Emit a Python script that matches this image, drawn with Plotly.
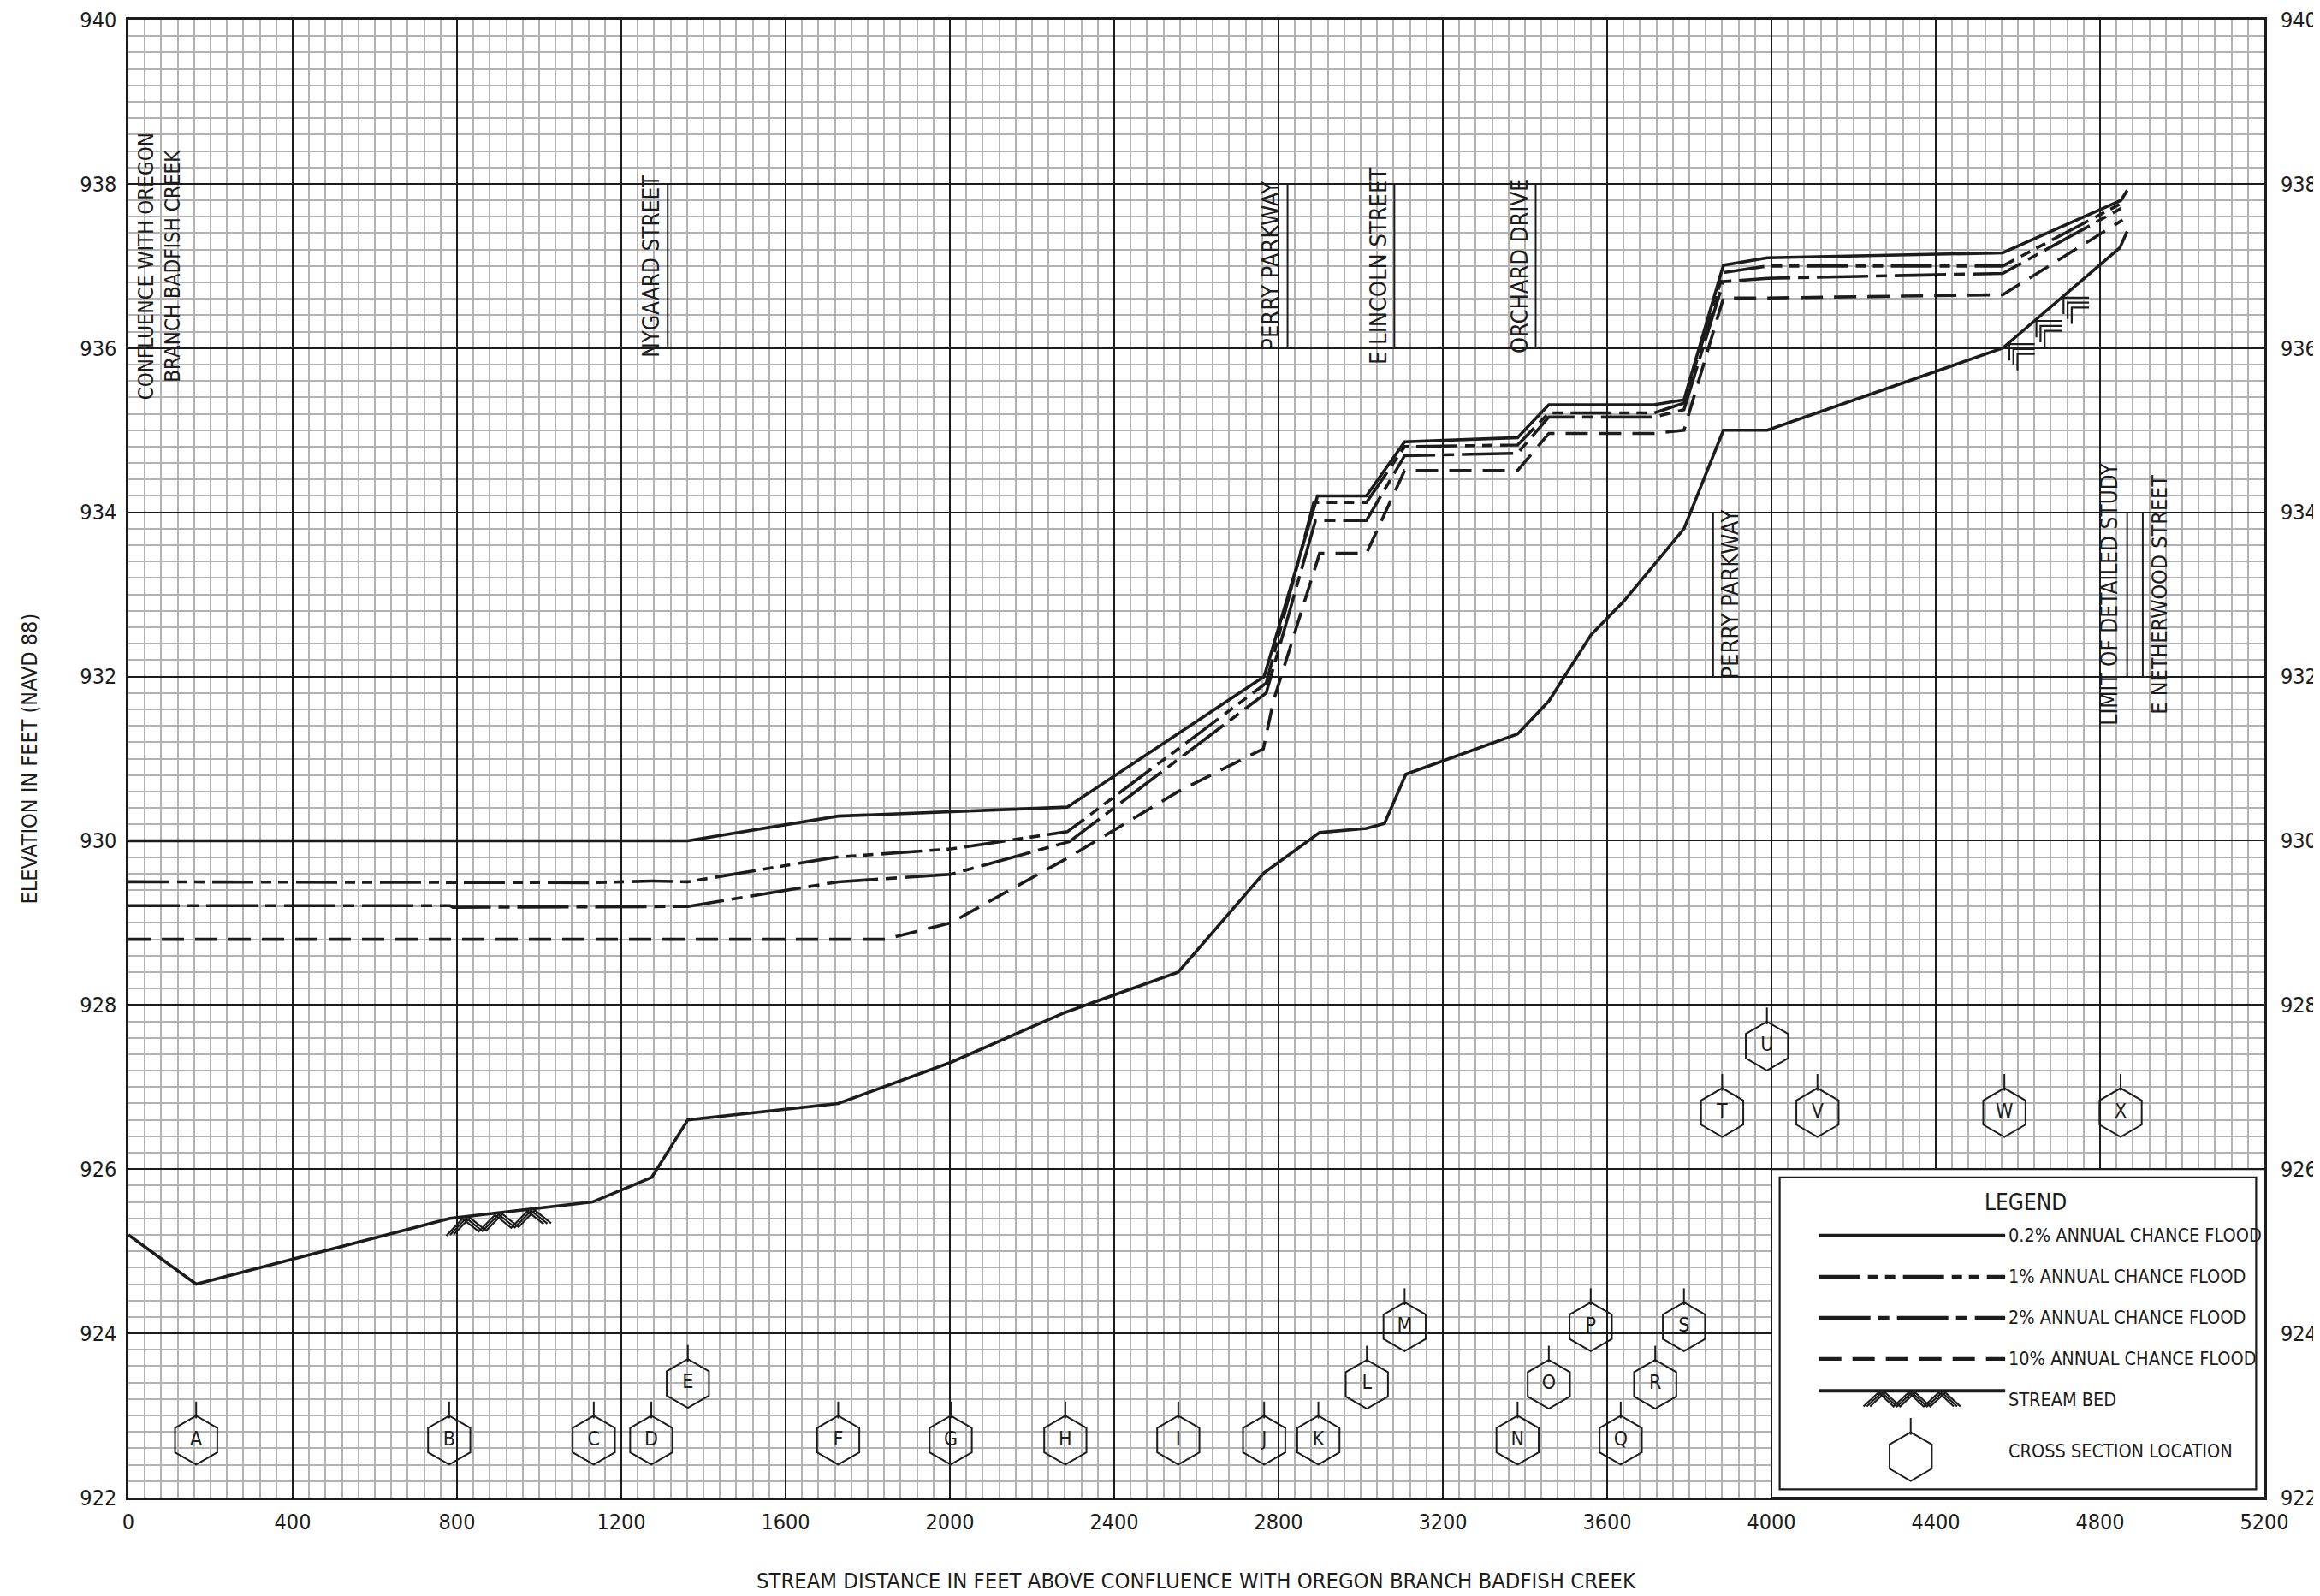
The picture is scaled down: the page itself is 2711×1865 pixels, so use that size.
import numpy as np
import plotly.graph_objects as go

FONT = "Liberation Sans Narrow, Arial Narrow, DejaVu Sans Condensed, sans-serif"
INK = "#1c1c1c"

# ---------------- data ----------------
bed_x = [0, 165, 783, 1130, 1274, 1362, 1728, 2002, 2281, 2556, 2765, 2900, 3014, 3058,
         3110, 3382, 3458, 3561, 3641, 3714, 3787, 3883, 3990, 4563, 4848, 4866]
bed_y = [925.20, 924.60, 925.40, 925.60, 925.90, 926.60, 926.80, 927.30, 927.91, 928.40,
         929.61, 930.10, 930.15, 930.21, 930.81, 931.30, 931.70, 932.51, 932.92, 933.36,
         933.80, 935.00, 935.00, 936.00, 937.22, 937.42]

f02_x = [0, 1362, 1728, 2286, 2765, 2895, 3014, 3107, 3382, 3458, 3714, 3787, 3883, 3990,
         4563, 4851, 4866]
f02_y = [930.00, 930.00, 930.30, 930.41, 932.00, 934.20, 934.20, 934.86, 934.91, 935.31,
         935.31, 935.37, 937.01, 937.10, 937.16, 937.80, 937.92]

f1_x = [0, 1130, 1274, 1362, 1723, 2002, 2286, 2770, 2886, 3014, 3107, 3382, 3458, 3714,
        3787, 3883, 3990, 4563, 4851]
f1_y = [929.50, 929.49, 929.51, 929.50, 929.80, 929.90, 930.11, 931.92, 934.12, 934.12,
        934.80, 934.82, 935.21, 935.21, 935.33, 936.92, 937.00, 937.00, 937.76]

f2_x = [0, 783, 790, 1362, 1728, 2002, 2291, 2770, 2890, 3014, 3107, 3382, 3458, 3714,
        3787, 3883, 3990, 4563, 4851]
f2_y = [929.21, 929.21, 929.19, 929.20, 929.50, 929.59, 929.99, 931.80, 933.90, 933.90,
        934.69, 934.72, 935.16, 935.16, 935.25, 936.81, 936.85, 936.91, 937.70]

f10_x = [0, 1843, 2002, 2290, 2556, 2763, 2788, 2900, 3014, 3107, 3382, 3458, 3714, 3787,
         3883, 3990, 4563, 4855]
f10_y = [928.80, 928.80, 929.00, 929.80, 930.60, 931.12, 931.71, 933.50, 933.50, 934.51,
         934.51, 934.96, 934.96, 935.00, 936.61, 936.61, 936.65, 937.56]

xs_labels = list("ABCDEFGHIJKLMNOPQRSTUVWX")
xs_x = [165, 781, 1133, 1273, 1362, 1728, 2002, 2281, 2556, 2765, 2897, 3015, 3107, 3382,
        3458, 3560, 3633, 3717, 3787, 3880, 3989, 4112, 4567, 4850]
xs_y = [922.70, 922.70, 922.70, 922.70, 923.39, 922.70, 922.70, 922.70, 922.70, 922.70,
        922.70, 923.38, 924.08, 922.70, 923.38, 924.08, 922.70, 923.38, 924.08, 926.69,
        927.50, 926.69, 926.69, 926.69]

street_text = ["CONFLUENCE WITH OREGON<br>BRANCH BADFISH CREEK", "NYGAARD STREET",
               "PERRY PARKWAY", "E LINCOLN STREET", "ORCHARD DRIVE", "PERRY PARKWAY",
               "LIMIT OF DETAILED STUDY", "E NETHERWOOD STREET"]
street_x = [76, 1273, 2781, 3044, 3388, 3900, 4823, 4946]
street_y = [937.0, 937.0, 937.0, 937.0, 937.0, 933.0, 933.0, 933.0]
street_size = [24, 26, 27, 27, 27, 27, 26, 25]

bar_x = [1313, 2822, 3082, 3426, 3858, 4866, 4904]
bar_y0 = [936, 936, 936, 936, 932, 932, 932]
bar_y1 = [938, 938, 938, 938, 934, 934, 934]

legend_labels = ["0.2% ANNUAL CHANCE FLOOD", "1% ANNUAL CHANCE FLOOD",
                 "2% ANNUAL CHANCE FLOOD", "10% ANNUAL CHANCE FLOOD",
                 "STREAM BED", "CROSS SECTION LOCATION"]

x_ticks = list(range(0, 5201, 400))
y_ticks = list(range(922, 941, 2))

# ---------------- styles ----------------
DASH_1 = "48px,9px,12px,8px,12px,9px"
DASH_2 = "60px,9px,13px,9px"
DASH_10 = "26px,13px"
LW = 3.6
TICK_FONT = 25

fig = go.Figure()


def add_line(x, y, dash, width=LW):
    fig.add_trace(go.Scatter(x=x, y=y, mode="lines", showlegend=False, hoverinfo="skip",
                             line=dict(color=INK, width=width, dash=dash)))


add_line(f10_x, f10_y, DASH_10)
add_line(f2_x, f2_y, DASH_2)
add_line(f1_x, f1_y, DASH_1)
add_line(f02_x, f02_y, "solid")
add_line(bed_x, bed_y, "solid")


# stream bed hatch (decoration derived from the stream bed profile)
def chevrons(xa, xb, nseg, base, depth, top_gap):
    xk = np.linspace(xa, xb, nseg + 1)
    ox, oy = [], []
    for k, xv in enumerate(xk):
        b = base(xv)
        ox.append(xv)
        oy.append(b - depth if k % 2 == 0 else b - top_gap)
    return ox, oy


def bed_fn(v):
    return float(np.interp(v, bed_x, bed_y))


def add_hatch(xa, xb, nseg, base, depth, top_gap, shifts):
    for s in shifts:
        hx, hy = chevrons(xa + s, xb + s, nseg, base, depth, top_gap)
        fig.add_trace(go.Scatter(x=hx, y=hy, mode="lines", showlegend=False,
                                 hoverinfo="skip", line=dict(color=INK, width=2.2)))


def add_stairs(xa, nsteps, step, run, rise, shifts):
    # sheared hatch on a sloping bed: vertical stroke then horizontal stroke
    for dx, dy in shifts:
        hx, hy = [], []
        for i in range(nsteps):
            xv = xa + i * step
            b = bed_fn(xv)
            hx += [xv + dx, xv + dx, xv + run, None]
            hy += [b - rise + dy, b - 0.02 + dy, b - 0.02 + dy, None]
        fig.add_trace(go.Scatter(x=hx, y=hy, mode="lines", showlegend=False,
                                 hoverinfo="skip", connectgaps=False,
                                 line=dict(color=INK, width=2.2)))


add_hatch(783, 1020, 6, bed_fn, 0.20, 0.02, [-9, 0, 9])
add_stairs(4579, 3, 66, 62, 0.22, [(0, 0.0), (10, -0.06), (20, -0.12)])

# cross-section hexagons
TICK_OFF = 0.367
fig.add_trace(go.Scatter(
    x=xs_x, y=xs_y, mode="markers+text", text=xs_labels, textposition="middle center",
    textfont=dict(family=FONT, size=23, color=INK), showlegend=False, hoverinfo="skip",
    marker=dict(symbol="hexagon-open", size=57, color=INK, line=dict(width=2, color=INK))))
fig.add_trace(go.Scatter(
    x=xs_x, y=[v + TICK_OFF for v in xs_y], mode="markers", showlegend=False,
    hoverinfo="skip",
    marker=dict(symbol="line-ns", size=14, color=INK, line=dict(width=2, color=INK))))

# invisible trace to carry the right-hand axis
fig.add_trace(go.Scatter(x=bed_x, y=bed_y, yaxis="y2", mode="lines", opacity=0,
                         showlegend=False, hoverinfo="skip", line=dict(width=0)))

shapes = []
# legend box
shapes.append(dict(type="rect", xref="x", yref="y", x0=4000, x1=5200, y0=922, y1=926,
                   fillcolor="white", line=dict(color=INK, width=2), layer="between"))
shapes.append(dict(type="rect", xref="x", yref="y", x0=4020, x1=5180, y0=922.1, y1=925.9,
                   fillcolor="rgba(0,0,0,0)", line=dict(color=INK, width=2.2), layer="above"))
leg_y = [925.19, 924.69, 924.19, 923.69, 923.30]
leg_dash = ["solid", DASH_1, DASH_2, DASH_10, "solid"]
for yy, dd in zip(leg_y, leg_dash):
    shapes.append(dict(type="line", xref="x", yref="y", x0=4116, x1=4569, y0=yy, y1=yy,
                       line=dict(color=INK, width=4.2, dash=dd), layer="above"))

# structure bars
for bx, b0, b1 in zip(bar_x, bar_y0, bar_y1):
    shapes.append(dict(type="line", xref="x", yref="y", x0=bx, x1=bx, y0=b0, y1=b1,
                       line=dict(color=INK, width=2), layer="above"))

# legend hatch and hexagon sample
add_hatch(4232, 4452, 6, lambda v: 923.30, 0.19, 0.02, [-8, 0, 8])
fig.add_trace(go.Scatter(
    x=[4339], y=[922.50], mode="markers", showlegend=False, hoverinfo="skip",
    marker=dict(symbol="hexagon-open", size=57, color=INK, line=dict(width=2, color=INK))))
fig.add_trace(go.Scatter(
    x=[4339], y=[922.50 + TICK_OFF], mode="markers", showlegend=False, hoverinfo="skip",
    marker=dict(symbol="line-ns", size=14, color=INK, line=dict(width=2, color=INK))))

annotations = []
for t, ax_, ay_, fs in zip(street_text, street_x, street_y, street_size):
    annotations.append(dict(x=ax_, y=ay_, xref="x", yref="y", text=t, showarrow=False,
                            textangle=-90, xanchor="center", yanchor="middle",
                            font=dict(family=FONT, size=fs, color=INK)))

annotations.append(dict(x=4619, y=925.60, xref="x", yref="y", text="LEGEND",
                        showarrow=False, font=dict(family=FONT, size=26, color=INK)))
leg_text_y = [925.19, 924.69, 924.19, 923.69, 923.19, 922.57]
for t, yy in zip(legend_labels, leg_text_y):
    annotations.append(dict(x=4572, y=yy, xref="x", yref="y", text=t, showarrow=False,
                            xanchor="left", yanchor="middle",
                            font=dict(family=FONT, size=21.5, color=INK)))

annotations.append(dict(x=0.5, y=-0.0562, xref="paper", yref="paper",
                        text="STREAM DISTANCE IN FEET ABOVE CONFLUENCE WITH OREGON BRANCH BADFISH CREEK",
                        showarrow=False, xanchor="center", yanchor="middle",
                        font=dict(family=FONT, size=25.4, color=INK)))
annotations.append(dict(x=-0.0461, y=0.5, xref="paper", yref="paper",
                        text="ELEVATION IN FEET (NAVD 88)", textangle=-90,
                        showarrow=False, xanchor="center", yanchor="middle",
                        font=dict(family=FONT, size=25, color=INK)))

axis_common = dict(showline=True, linecolor=INK, linewidth=2.5, zeroline=False, ticks="",
                   tickfont=dict(family=FONT, size=TICK_FONT, color=INK))

fig.update_layout(
    template="none",
    width=2711, height=1865,
    margin=dict(l=142, r=73, t=15, b=123, autoexpand=False),
    paper_bgcolor="white", plot_bgcolor="white",
    font=dict(family=FONT, color=INK),
    showlegend=False,
    shapes=shapes,
    annotations=annotations,
    xaxis=dict(range=[0, 5200], tickvals=x_ticks, ticktext=[str(v) for v in x_ticks],
               showgrid=True, gridcolor=INK, gridwidth=2, mirror=True,
               minor=dict(dtick=40, tick0=0, showgrid=True, gridcolor="#b2b2b2", gridwidth=1.6),
               ticklabelstandoff=4, **axis_common),
    yaxis=dict(range=[922, 940], tickvals=y_ticks, ticktext=[str(v) for v in y_ticks],
               showgrid=True, gridcolor=INK, gridwidth=2, mirror=True,
               minor=dict(dtick=0.2, tick0=922, showgrid=True, gridcolor="#b2b2b2", gridwidth=1.6),
               ticklabelstandoff=6, **axis_common),
    yaxis2=dict(range=[922, 940], overlaying="y", side="right", tickvals=y_ticks,
                ticktext=[str(v) for v in y_ticks], showgrid=False, showline=False,
                zeroline=False, ticks="", ticklabelstandoff=18,
                tickfont=dict(family=FONT, size=TICK_FONT, color=INK)),
)

fig.write_html("out.html")
